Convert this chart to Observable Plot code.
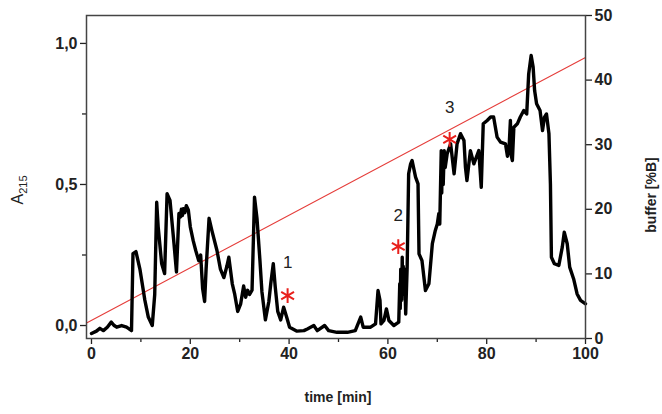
<!DOCTYPE html>
<html><head><meta charset="utf-8">
<script src="https://cdn.jsdelivr.net/npm/d3@7"></script>
<script src="https://cdn.jsdelivr.net/npm/@observablehq/plot@0.6"></script>
<style>body{margin:0;background:#fff}</style>
</head><body><div id="chart"></div>
<script>
// chromatogram trace: time [min] and absorbance A215
const time = [0,1.0,1.7,2.4,3.2,4.0,4.6,5.1,6.1,7.1,8.1,8.4,9.0,9.8,10.8,11.5,12.3,12.8,13.2,13.5,14.2,14.8,15.3,15.9,16.7,17.2,17.7,18.0,18.2,18.4,18.6,18.9,19.2,19.6,20.0,20.6,21.1,21.7,22.1,22.5,22.9,23.2,23.8,24.4,25.4,26.1,26.8,27.4,27.8,28.5,29.0,29.6,30.2,30.8,31.2,31.6,32.0,32.5,33.0,33.5,34.1,34.5,35.2,35.9,36.3,36.8,37.2,37.7,38.3,38.9,39.5,40.1,41.6,43.0,43.7,45.0,45.7,47.2,48.0,49.7,51.8,53.4,54.5,55.0,56.5,57.5,58.0,58.4,58.6,59.2,59.7,60.2,61.2,62.2,62.4,62.5,62.6,62.8,62.9,63.0,63.1,63.3,63.4,63.6,63.9,64.2,64.6,64.9,65.6,66.1,66.3,66.9,67.6,68.3,69.0,69.6,70.0,70.3,70.5,70.8,70.9,71.0,71.2,71.4,71.6,72.0,72.7,73.4,74.0,74.7,75.4,75.7,76.0,76.7,77.4,78.4,78.9,79.3,80.1,80.8,81.4,82.1,82.8,83.8,84.2,84.5,84.8,85.0,85.2,85.5,86.2,86.8,87.5,88.1,88.5,89.0,89.4,89.7,90.1,90.8,91.3,91.7,92.1,92.6,92.9,93.1,93.7,94.6,95.3,95.7,96.3,96.8,97.6,98.3,99.0,100];
const absorbance = [-0.028,-0.02,-0.01,-0.018,-0.006,0.012,0.0,-0.006,0.0,-0.006,-0.018,0.255,0.262,0.2,0.09,0.03,0.0,0.11,0.437,0.35,0.22,0.184,0.467,0.443,0.29,0.19,0.397,0.385,0.412,0.39,0.414,0.4,0.425,0.41,0.35,0.3,0.266,0.23,0.25,0.13,0.085,0.2,0.38,0.335,0.266,0.2,0.17,0.21,0.242,0.148,0.11,0.05,0.077,0.14,0.1,0.125,0.11,0.125,0.455,0.38,0.23,0.12,0.02,0.085,0.15,0.219,0.136,0.05,0.02,0.065,0.03,-0.006,-0.02,-0.018,-0.012,0.0,-0.018,0.0,-0.018,-0.024,-0.024,-0.018,0.03,-0.006,-0.006,0.006,0.124,0.089,0.006,0.018,0.059,0.018,0.0,0.012,0.148,0.06,0.2,0.09,0.242,0.11,0.21,0.13,0.2,0.041,0.207,0.538,0.573,0.585,0.526,0.502,0.254,0.23,0.124,0.148,0.29,0.337,0.36,0.396,0.36,0.62,0.47,0.6,0.5,0.62,0.56,0.609,0.644,0.538,0.644,0.68,0.656,0.561,0.514,0.62,0.573,0.62,0.49,0.715,0.727,0.739,0.739,0.668,0.65,0.644,0.6,0.62,0.727,0.6,0.585,0.703,0.715,0.739,0.762,0.75,0.892,0.957,0.916,0.833,0.786,0.762,0.691,0.739,0.75,0.68,0.502,0.242,0.219,0.213,0.278,0.331,0.29,0.207,0.165,0.112,0.089,0.077];

// buffer gradient [%B]
const gradientTime = [-1, 100];
const gradientB = [2.4, 43.5];

// marked peaks
const peakTime = [39.7, 62.1, 72.5];
const peakA = [0.106, 0.28, 0.66];
const peakLabel = ["1", "2", "3"];
const peakLabelA = [0.223, 0.39, 0.773];

// ticks
const xTicks = [0, 20, 40, 60, 80, 100];
const xMinorTicks = [10, 30, 50, 70, 90];
const yTicks = [0, 0.5, 1.0];
const yMinorTicks = [0.25, 0.75];
const bTicks = [0, 10, 20, 30, 40, 50];

const yMin = -0.046, yMax = 1.099, bMax = 50;
const toA = b => yMin + b / bMax * (yMax - yMin);
const fromA = a => (a - yMin) / (yMax - yMin) * bMax;

const trace = time.map((t, i) => ({t, a: absorbance[i]}));
const gradient = gradientTime.map((t, i) => ({t, a: toA(gradientB[i])}));
const peaks = peakTime.map((t, i) => ({t, a: peakA[i], la: peakLabelA[i], label: peakLabel[i]}));

const font = "'Liberation Sans', Arial, sans-serif";
const chart = Plot.plot({
  width: 662, height: 414,
  marginLeft: 86, marginRight: 77, marginTop: 15, marginBottom: 76,
  x: {domain: [-1.01, 100]},
  y: {domain: [yMin, yMax]},
  style: {fontFamily: font, fontSize: "16px", color: "#222", background: "#fff", overflow: "visible"},
  marks: [
    Plot.axisX(xTicks, {tickSize: 6, tickPadding: 3, fontWeight: "bold", fontSize: 16, label: null, strokeWidth: 1.3}),
    Plot.axisX(xMinorTicks, {tickSize: 4, tickFormat: () => "", label: null, strokeWidth: 1.3}),
    Plot.axisY(yTicks, {tickSize: 6, tickPadding: 3, fontWeight: "bold", fontSize: 16, label: null, strokeWidth: 1.3,
      tickFormat: d => d.toFixed(1).replace(".", ",")}),
    Plot.axisY(yMinorTicks, {tickSize: 4, tickFormat: () => "", label: null, strokeWidth: 1.3}),
    Plot.axisY(bTicks.map(toA), {anchor: "right", tickSize: 6, tickPadding: 3, fontWeight: "bold", fontSize: 16, label: null, strokeWidth: 1.3,
      tickFormat: d => String(Math.round(fromA(d)))}),
    Plot.line(gradient, {x: "t", y: "a", stroke: "#e53d3a", strokeWidth: 1.1}),
    Plot.line(trace, {x: "t", y: "a", stroke: "#000", strokeWidth: 3.4, strokeLinejoin: "round"}),
    Plot.dot(peaks, {x: "t", y: "a", symbol: "asterisk", r: 7, stroke: "#e8201c", strokeWidth: 2}),
    Plot.text(peaks, {x: "t", y: "la", text: "label", fontSize: 17, fill: "#222"}),
    Plot.frame({stroke: "#444", strokeWidth: 1.5})
  ]
});
document.getElementById("chart").appendChild(chart);

const svg = d3.select(chart);
svg.append("text").attr("x", 338).attr("y", 398).attr("text-anchor", "middle")
  .attr("dominant-baseline", "middle").attr("font-family", font).attr("font-weight", "bold")
  .attr("font-size", 14).attr("fill", "#222").text("time [min]");
const at = svg.append("text").attr("transform", "translate(23,190) rotate(-90)").attr("text-anchor", "middle")
  .attr("font-family", font).attr("font-size", 16).attr("fill", "#222");
at.append("tspan").text("A");
at.append("tspan").attr("font-size", 11).attr("dy", 4).text("215");
svg.append("text").attr("transform", "translate(652,195) rotate(-90)").attr("text-anchor", "middle")
  .attr("dominant-baseline", "middle").attr("font-family", font).attr("font-weight", "bold")
  .attr("font-size", 14).attr("fill", "#222").text("buffer [%B]");
</script>
</body></html>
